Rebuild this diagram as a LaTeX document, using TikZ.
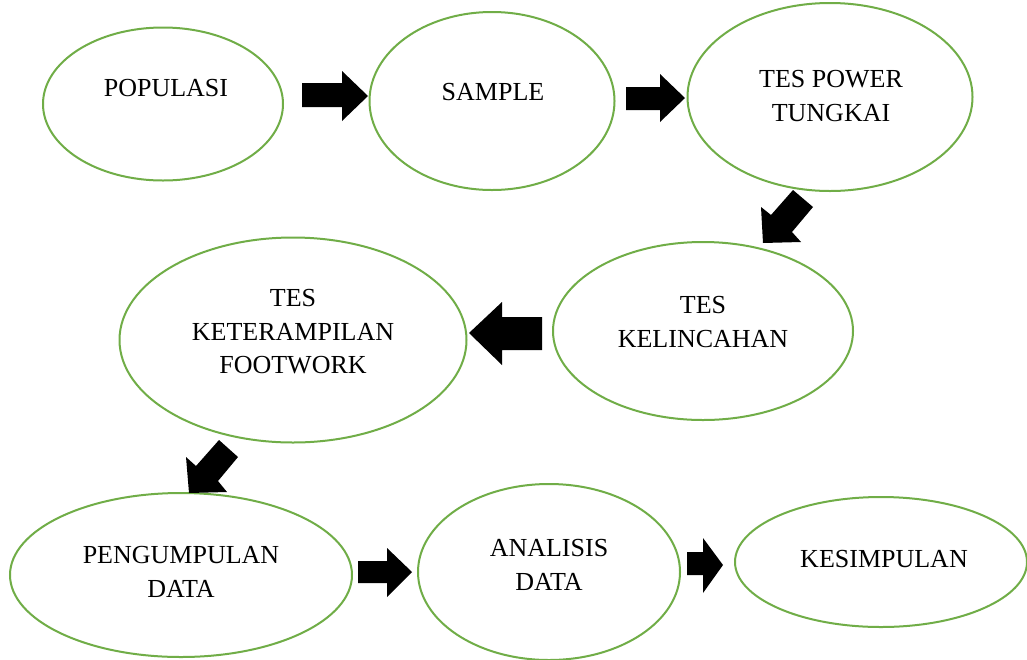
\documentclass[tikz,border=0pt]{standalone}
\usepackage{fontspec}
\setmainfont{Liberation Serif}
\usetikzlibrary{shapes.geometric}
\definecolor{ellgreen}{RGB}{112,173,71}
\tikzset{
  oval/.style={ellipse, draw=ellgreen, line width=2pt, inner sep=0pt, fill=white},
  lbl/.style={align=center, font=\fontsize{26}{33.5}\selectfont, inner sep=0pt},
  blk/.style={fill=black, draw=none}
}
\begin{document}
\begin{tikzpicture}[x=1pt,y=-1pt]
\useasboundingbox (0,0) rectangle (1027,659);
% ellipses
\node[oval, minimum width=240pt, minimum height=153pt] (e1) at (163,104) {};
\node[oval, minimum width=245pt, minimum height=178pt] (e2) at (492,101) {};
\node[oval, minimum width=285pt, minimum height=188pt] (e3) at (830,97) {};
\node[oval, minimum width=300pt, minimum height=178pt] (e4) at (703,331) {};
\node[oval, minimum width=347pt, minimum height=205pt] (e5) at (293,340) {};
\node[oval, minimum width=342pt, minimum height=164pt] (e6) at (181,575) {};
\node[oval, minimum width=262pt, minimum height=176pt] (e7) at (549,572) {};
\node[oval, minimum width=292pt, minimum height=130pt] (e8) at (881,562) {};
% labels
\node[lbl] (t1) at (166,88) {POPULASI};
\node[lbl] (t2) at (493,92) {SAMPLE};
\node[lbl] (t3) at (831,96) {TES POWER\\TUNGKAI};
\node[lbl] (t4) at (703,322) {TES\\KELINCAHAN};
\node[lbl] (t5) at (293,332) {TES\\KETERAMPILAN\\FOOTWORK};
\node[lbl] (t6) at (181,572) {PENGUMPULAN\\DATA};
\node[lbl] (t7) at (549,565) {ANALISIS\\DATA};
\node[lbl] (t8) at (884,559) {KESIMPULAN};
% block arrows
\fill[blk] (302,83) -- (342,83) -- (342,71) -- (368,96) -- (342,121) -- (342,107) -- (302,107) -- cycle;
\fill[blk] (626,87) -- (660,87) -- (660,74) -- (685,98) -- (660,122) -- (660,110) -- (626,110) -- cycle;
\fill[blk] (793,190) -- (813,207) -- (792,232) -- (801,242) -- (763,243) -- (761,207) -- (771,215) -- cycle;
\fill[blk] (542,317) -- (502,317) -- (502,302) -- (469,333) -- (502,365) -- (502,350) -- (542,350) -- cycle;
\fill[blk] (219,440) -- (238,457) -- (218,481) -- (227,492) -- (189,493) -- (186,457) -- (196,466) -- cycle;
\fill[blk] (358,561) -- (387,561) -- (387,548) -- (412,572) -- (387,597) -- (387,583) -- (358,583) -- cycle;
\fill[blk] (687,552) -- (703,552) -- (703,538) -- (723,565) -- (703,593) -- (703,575) -- (687,575) -- cycle;
\end{tikzpicture}
\end{document}
